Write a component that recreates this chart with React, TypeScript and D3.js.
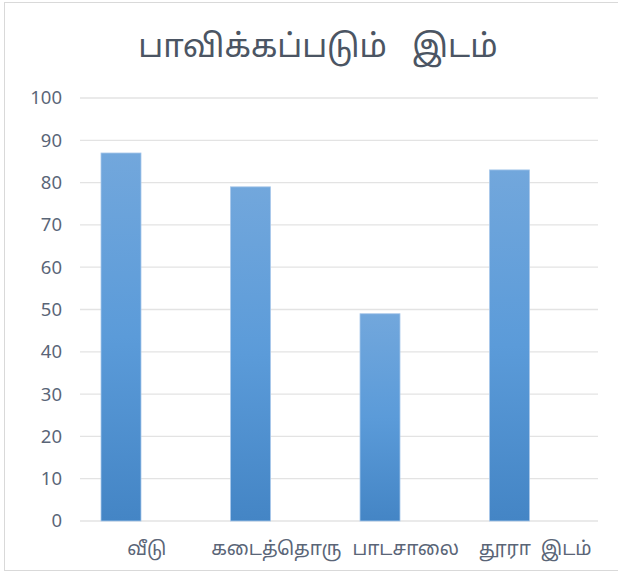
import React, { useEffect, useRef } from 'react';
import * as d3 from 'd3';

const categories = ['வீடு', 'கடைத்தொரு', 'பாடசாலை', 'தூரா  இடம்'];
const values = [87, 79, 49, 83];
const yTicks = [0, 10, 20, 30, 40, 50, 60, 70, 80, 90, 100];
const title = 'பாவிக்கப்படும்   இடம்';

const FONT = '"Noto Sans Tamil", "Latha", "Nirmala UI", "Open Sans", sans-serif';

export default function App() {
  const svgRef = useRef<SVGSVGElement>(null);

  useEffect(() => {
    if (!svgRef.current) return;
    const svg = d3.select(svgRef.current);
    svg.selectAll('*').remove();

    const width = 618;
    const plot = { left: 80, right: 598, top: 98, bottom: 521 };

    // chart frame
    svg.append('rect')
      .attr('x', 4.5).attr('y', 2.5)
      .attr('width', 620).attr('height', 568)
      .attr('fill', '#fff')
      .attr('stroke', '#d9d9d9')
      .attr('stroke-width', 1);

    const defs = svg.append('defs');
    const grad = defs.append('linearGradient')
      .attr('id', 'barGrad')
      .attr('x1', 0).attr('y1', 0).attr('x2', 0).attr('y2', 1);
    grad.append('stop').attr('offset', '0%').attr('stop-color', '#72a7dc');
    grad.append('stop').attr('offset', '50%').attr('stop-color', '#5b9bd9');
    grad.append('stop').attr('offset', '100%').attr('stop-color', '#4485c5');

    const x0 = d3.scaleBand<string>()
      .domain(categories)
      .range([plot.left, plot.right])
      .padding(0);

    // two slots per category, only the first one holds data
    const x1 = d3.scaleBand<string>()
      .domain(['a', 'b'])
      .range([21, 101]);

    const y = d3.scaleLinear()
      .domain([0, 100])
      .range([plot.bottom, plot.top]);

    // gridlines
    svg.append('g')
      .selectAll('line')
      .data(yTicks)
      .enter().append('line')
      .attr('x1', plot.left).attr('x2', plot.right)
      .attr('y1', d => y(d)).attr('y2', d => y(d))
      .attr('stroke', '#e3e3e3')
      .attr('stroke-width', 1.3);

    // y labels
    svg.append('g')
      .selectAll('text')
      .data(yTicks)
      .enter().append('text')
      .attr('x', 62)
      .attr('y', d => y(d))
      .attr('dy', '0.35em')
      .attr('text-anchor', 'end')
      .style('font-family', FONT)
      .style('font-size', '18.5px')
      .style('fill', '#5a6577')
      .text(d => d);

    // bars
    svg.append('g')
      .selectAll('rect')
      .data(values)
      .enter().append('rect')
      .attr('x', (d, i) => (x0(categories[i]) ?? 0) + (x1('a') ?? 0))
      .attr('y', d => y(d))
      .attr('width', x1.bandwidth())
      .attr('height', d => y(0) - y(d))
      .attr('fill', 'url(#barGrad)')
      .attr('stroke', '#a9c8ea')
      .attr('stroke-width', 0.8);

    // category labels
    svg.append('g')
      .selectAll('text')
      .data(categories)
      .enter().append('text')
      .attr('x', d => (x0(d) ?? 0) + x0.bandwidth() / 2 + 2)
      .attr('y', 548)
      .attr('dy', '0.35em')
      .attr('text-anchor', 'middle')
      .style('font-family', FONT)
      .style('font-size', '19px')
      .style('fill', '#5a6577')
      .style('white-space', 'pre')
      .text(d => d);

    svg.append('text')
      .attr('x', width / 2 + 9)
      .attr('y', 46)
      .attr('dy', '0.35em')
      .attr('text-anchor', 'middle')
      .style('font-family', FONT)
      .style('font-size', '32px')
      .style('fill', '#4b5563')
      .style('white-space', 'pre')
      .text(title);
  }, []);

  return (
    <svg
      ref={svgRef}
      width={618}
      height={573}
      style={{ position: 'absolute', left: 0, top: 0, display: 'block' }}
    />
  );
}
